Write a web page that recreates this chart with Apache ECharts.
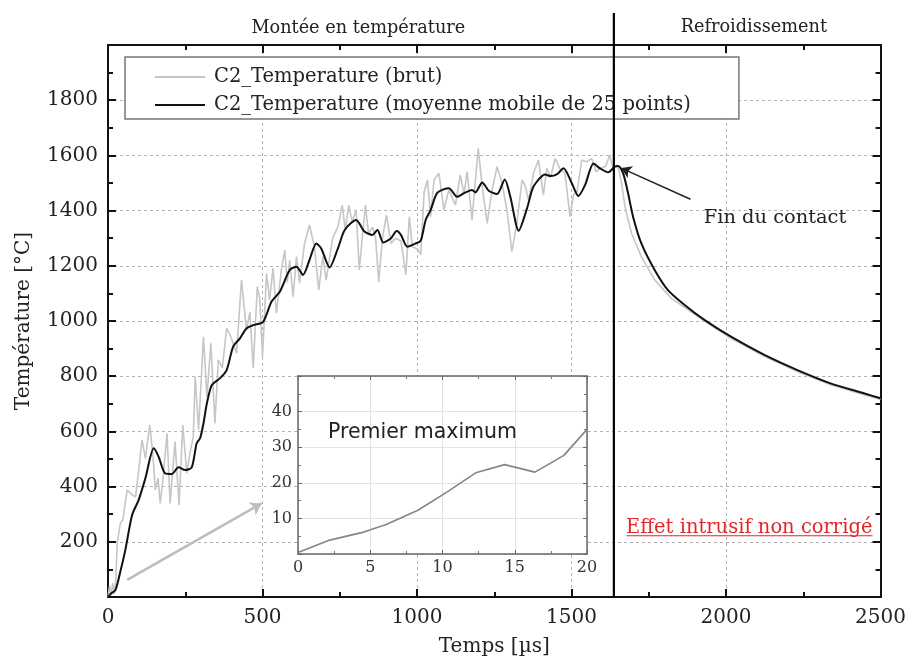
<!DOCTYPE html>
<html>
<head>
<meta charset="utf-8">
<script src="https://cdn.jsdelivr.net/npm/echarts@6/dist/echarts.min.js"></script>
<style>
    html, body {margin: 0; padding: 0; background: #fff;}
    #chart {width: 909px; height: 664px;}
</style>
</head>
<body>
<div id="chart"></div>
<script>
// signal brut (temps en µs, température en °C)
var rawT = [0, 5, 10, 15, 20, 25, 30, 40, 48, 62, 78, 89, 99, 110, 121, 135, 145, 153, 162, 169,
    178, 191, 201, 217, 230, 242, 255, 265, 276, 282, 293, 309, 320, 333, 346, 357, 370, 384, 395, 416,
    432, 448, 459, 470, 483, 491, 500, 513, 523, 534, 545, 561, 572, 580, 588, 599, 610, 620, 636, 652,
    668, 682, 695, 706, 727, 744, 758, 768, 779, 790, 803, 813, 833, 843, 856, 866, 876, 888, 901, 916,
    930, 948, 964, 975, 985, 1003, 1012, 1023, 1034, 1044, 1055, 1071, 1087, 1103, 1124, 1140, 1152, 1162, 1178, 1189,
    1198, 1211, 1227, 1243, 1259, 1275, 1291, 1307, 1323, 1340, 1350, 1361, 1377, 1393, 1409, 1420, 1432, 1447, 1463, 1479,
    1495, 1506, 1518, 1533, 1549, 1565, 1580, 1592, 1610, 1624, 1634, 1646, 1655, 1662, 1673, 1694, 1726, 1769, 1823, 1877,
    1941, 2016, 2124, 2231, 2338, 2446, 2500];
var rawV = [0, 40, 5, 50, 10, 60, 196, 268, 280, 388, 370, 363, 454, 569, 502, 623, 521, 388, 430, 339,
    428, 593, 339, 563, 333, 623, 448, 520, 581, 798, 605, 943, 726, 919, 629, 859, 830, 973, 950, 883,
    1148, 967, 1032, 829, 1124, 1080, 871, 1173, 1076, 1191, 1028, 1185, 1257, 1140, 1221, 1088, 1233, 1137, 1281, 1348,
    1269, 1112, 1233, 1148, 1300, 1341, 1420, 1330, 1420, 1360, 1402, 1185, 1420, 1318, 1340, 1300, 1142, 1300, 1384, 1281,
    1300, 1290, 1167, 1378, 1269, 1260, 1240, 1468, 1511, 1378, 1511, 1535, 1402, 1475, 1420, 1529, 1460, 1541, 1366, 1511,
    1626, 1487, 1354, 1475, 1559, 1499, 1402, 1251, 1354, 1511, 1490, 1438, 1535, 1583, 1456, 1553, 1520, 1589, 1550, 1535,
    1378, 1456, 1470, 1583, 1577, 1589, 1540, 1553, 1560, 1601, 1553, 1565, 1540, 1499, 1414, 1318, 1233, 1149, 1082, 1040,
    992, 937, 872, 817, 769, 733, 716];

// moyenne mobile 25 points
var smoothT = [0, 8, 24, 40, 56, 78, 99, 121, 148, 164, 185, 207, 228, 250, 271, 287, 298, 309, 320, 336,
    362, 384, 405, 427, 448, 470, 502, 529, 556, 588, 610, 631, 652, 674, 690, 717, 744, 766, 803, 830,
    856, 872, 891, 916, 934, 948, 969, 996, 1012, 1028, 1044, 1066, 1103, 1130, 1152, 1178, 1189, 1211, 1232, 1259,
    1284, 1302, 1329, 1356, 1377, 1415, 1432, 1452, 1474, 1501, 1522, 1544, 1571, 1592, 1619, 1640, 1651, 1667, 1683, 1699,
    1726, 1769, 1812, 1866, 1930, 2016, 2124, 2231, 2338, 2446, 2500];
var smoothV = [0, 11, 25, 92, 170, 297, 351, 430, 539, 508, 448, 446, 470, 460, 470, 557, 575, 629, 702, 768,
    792, 822, 907, 937, 973, 985, 997, 1070, 1106, 1185, 1197, 1167, 1221, 1281, 1263, 1194, 1263, 1330, 1366, 1324,
    1312, 1330, 1284, 1300, 1326, 1312, 1269, 1281, 1291, 1366, 1402, 1465, 1481, 1450, 1463, 1475, 1466, 1502, 1472, 1460,
    1513, 1450, 1327, 1408, 1487, 1531, 1525, 1531, 1553, 1499, 1453, 1493, 1571, 1553, 1539, 1559, 1562, 1535, 1463, 1378,
    1281, 1185, 1112, 1058, 1004, 943, 877, 822, 774, 738, 720];

// encart : 20 premières µs
var insetT = [0, 2.2, 4.4, 6.1, 8.3, 10.3, 12.3, 14.3, 16.4, 18.4, 20];
var insetV = [0.4, 3.9, 6.0, 8.3, 12.3, 17.4, 22.8, 25.1, 23.0, 27.7, 35];

var contactT = 1637;

function zip(a, b) {
    return a.map(function (t, i) { return [t, b[i]]; });
}
function plain(v) { return String(v); }

var serif = 'DejaVu Serif';
var G = {left: 108, top: 45, width: 775, height: 552};
var I = {left: 298, top: 376, width: 289, height: 178};

function mainAxis(pos, min, max, step, extra) {
    var ax = {
        gridIndex: 0, type: 'value', position: pos, min: min, max: max, interval: step,
        axisLine: {onZero: false, lineStyle: {color: '#111', width: 2}},
        axisTick: {inside: true, length: 8, lineStyle: {color: '#111', width: 2}},
        minorTick: {show: true, splitNumber: 2, length: 5, lineStyle: {color: '#111', width: 2}},
        axisLabel: {show: false},
        splitLine: {show: false}
    };
    for (var k in extra) ax[k] = extra[k];
    return ax;
}

function insetAxis(pos, min, max, step, extra) {
    var ax = {
        gridIndex: 1, type: 'value', position: pos, min: min, max: max, interval: step, z: 10,
        axisLine: {onZero: false, lineStyle: {color: '#666', width: 1.5}},
        axisTick: {inside: true, length: 4, lineStyle: {color: '#666', width: 1}},
        minorTick: {show: true, splitNumber: 2, length: 3, lineStyle: {color: '#777', width: 1}},
        axisLabel: {show: false},
        splitLine: {show: false}
    };
    for (var k in extra) ax[k] = extra[k];
    return ax;
}

var dash = {color: '#b3b3b3', type: [3, 3], width: 1};

var dom = document.getElementById('chart');
var myChart = echarts.init(dom);

var option = {
    animation: false,
    backgroundColor: '#fff',
    grid: [
        {left: G.left, top: G.top, width: G.width, height: G.height},
        {left: I.left, top: I.top, width: I.width, height: I.height}
    ],
    legend: {
        left: 125, top: 57, orient: 'vertical',
        itemWidth: 50, itemHeight: 2, itemGap: 4,
        padding: [8, 48, 2, 30],
        backgroundColor: '#fff', borderColor: '#777', borderWidth: 1.5,
        textStyle: {fontFamily: serif, fontSize: 19.5, color: '#222', lineHeight: 24, padding: [0, 0, 0, 4]},
        data: [
            {name: 'C2_Temperature (brut)', icon: 'rect'},
            {name: 'C2_Temperature (moyenne mobile de 25 points)', icon: 'rect'}
        ]
    },
    xAxis: [
        mainAxis('bottom', 0, 2500, 500, {
            name: 'Temps [µs]', nameLocation: 'middle', nameGap: 40,
            nameTextStyle: {fontFamily: serif, fontSize: 20, color: '#222'},
            axisLabel: {show: true, fontFamily: serif, fontSize: 20, color: '#222', margin: 11, formatter: plain},
            splitLine: {show: true, lineStyle: dash}
        }),
        mainAxis('top', 0, 2500, 500, {}),
        insetAxis('bottom', 0, 20, 5, {
            axisLabel: {show: true, fontFamily: serif, fontSize: 16, color: '#333', margin: 6},
            splitLine: {show: true, lineStyle: {color: '#e2e2e2', width: 1}}
        }),
        insetAxis('top', 0, 20, 5, {})
    ],
    yAxis: [
        mainAxis('left', 0, 2000, 200, {
            name: 'Température [°C]', nameLocation: 'middle', nameGap: 74, nameRotate: 90,
            nameTextStyle: {fontFamily: serif, fontSize: 20, color: '#222'},
            axisLabel: {show: true, fontFamily: serif, fontSize: 20, color: '#222', margin: 10,
                showMinLabel: false, showMaxLabel: false, formatter: plain},
            splitLine: {show: true, lineStyle: dash}
        }),
        mainAxis('right', 0, 2000, 200, {}),
        insetAxis('left', 0, 50, 10, {
            axisLabel: {show: true, fontFamily: serif, fontSize: 16, color: '#333', margin: 6,
                showMinLabel: false, showMaxLabel: false},
            splitLine: {show: true, lineStyle: {color: '#e2e2e2', width: 1}}
        }),
        insetAxis('right', 0, 50, 10, {})
    ],
    series: [
        {
            name: 'C2_Temperature (brut)', type: 'line', xAxisIndex: 0, yAxisIndex: 0,
            data: zip(rawT, rawV), symbol: 'none', z: 2,
            lineStyle: {color: '#c6c6c6', width: 1.6}, itemStyle: {color: '#c6c6c6'},
            markLine: {
                silent: true, symbol: ['none', 'arrow'], symbolSize: 11,
                label: {show: false},
                lineStyle: {color: '#bdbdbd', width: 2.5, type: 'solid'},
                data: [[{coord: [62, 62]}, {coord: [497, 339]}]]
            }
        },
        {
            name: 'C2_Temperature (moyenne mobile de 25 points)', type: 'line', xAxisIndex: 0, yAxisIndex: 0,
            data: zip(smoothT, smoothV), symbol: 'none', smooth: 0.25, z: 3,
            lineStyle: {color: '#111', width: 2}, itemStyle: {color: '#111'},
            markLine: {
                silent: true, symbol: ['none', 'arrow'], symbolSize: 10,
                label: {show: false},
                lineStyle: {color: '#222', width: 1.5, type: 'solid'},
                data: [[{coord: [1885, 1441]}, {coord: [1661, 1554]}]]
            }
        },
        {
            name: 'encart', type: 'line', xAxisIndex: 2, yAxisIndex: 2,
            data: zip(insetT, insetV), symbol: 'none', z: 12,
            lineStyle: {color: '#858585', width: 1.6},
            markLine: {
                silent: true, symbol: ['none', 'arrow'], symbolSize: 6,
                label: {show: false},
                lineStyle: {color: '#777', width: 1, type: 'solid'},
                data: [[{coord: [8.3, 30.1]}, {coord: [13.8, 25.6]}]]
            }
        }
    ]
};
myChart.setOption(option, true);

// annotations placées avec les échelles du graphique
var px = function (x, y) { return myChart.convertToPixel({xAxisIndex: 0, yAxisIndex: 0}, [x, y]); };
var pi = function (x, y) { return myChart.convertToPixel({xAxisIndex: 2, yAxisIndex: 2}, [x, y]); };
var c0 = px(contactT, 0);
var fin = px(1928, 1373);
var eff = px(2075, 249);
var u1 = px(1678, 222), u2 = px(2474, 222);
var mont = px(810, 0), refr = px(2090, 0);
var prem = pi(2.07, 34.2);

myChart.setOption({
    graphic: [
        {type: 'rect', z: 5, silent: true,
            shape: {x: I.left, y: I.top, width: I.width, height: I.height},
            style: {fill: '#fff'}},
        {type: 'line', z: 20, silent: true,
            shape: {x1: c0[0], y1: 13, x2: c0[0], y2: G.top + G.height},
            style: {stroke: '#000', lineWidth: 2.2}},
        {type: 'text', z: 20, x: mont[0], y: 28,
            style: {text: 'Montée en température', font: '17.7px "DejaVu Serif"', fill: '#222',
                textAlign: 'center', textVerticalAlign: 'middle'}},
        {type: 'text', z: 20, x: refr[0], y: 27,
            style: {text: 'Refroidissement', font: '17.7px "DejaVu Serif"', fill: '#222',
                textAlign: 'center', textVerticalAlign: 'middle'}},
        {type: 'text', z: 20, x: fin[0], y: fin[1],
            style: {text: 'Fin du contact', font: '19.4px "DejaVu Serif"', fill: '#222',
                textAlign: 'left', textVerticalAlign: 'middle'}},
        {type: 'text', z: 20, x: eff[0], y: eff[1],
            style: {text: 'Effet intrusif non corrigé', font: '19.5px "DejaVu Serif"', fill: '#e0282a',
                textAlign: 'center', textVerticalAlign: 'middle'}},
        {type: 'line', z: 20, silent: true,
            shape: {x1: u1[0], y1: u1[1], x2: u2[0], y2: u2[1]},
            style: {stroke: '#e0282a', lineWidth: 1.2}},
        {type: 'text', z: 20, x: prem[0], y: prem[1],
            style: {text: 'Premier maximum', font: '20.5px "DejaVu Sans"', fill: '#222',
                textAlign: 'left', textVerticalAlign: 'middle'}}
    ]
});
</script>
</body>
</html>
